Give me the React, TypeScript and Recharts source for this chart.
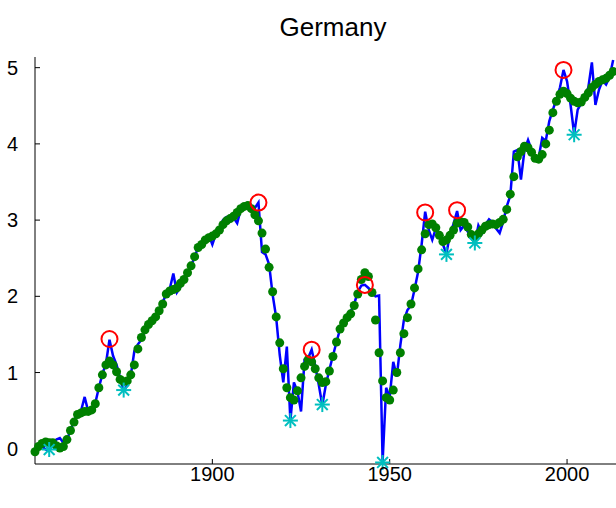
import React from "react";
import { ComposedChart, Line, Scatter, XAxis, YAxis } from "recharts";

// Germany, 1850-2013: raw series (blue line) and smoothed series (green dots)
const firstYear = 1850;

const raw = [
  -0.07, -0.01, 0.03, -0.01, -0.03, 0.07, 0.12, 0.14, 0.08, 0.12,
  0.24, 0.37, 0.46, 0.5, 0.68, 0.49, 0.51, 0.6, 0.8, 0.98,
  1.12, 1.43, 1.22, 1.1, 0.93, 0.76, 0.83, 0.96, 1.28, 1.37,
  1.43, 1.55, 1.63, 1.68, 1.73, 1.81, 1.93, 2.02, 2.1, 2.3,
  2.05, 2.12, 2.2, 2.3, 2.4, 2.52, 2.64, 2.7, 2.77, 2.8,
  2.68, 2.82, 2.89, 3.0, 3.04, 3.04, 3.03, 2.96, 3.14, 3.18,
  3.16, 3.11, 3.16, 3.23, 2.58, 2.55, 2.42, 2.02, 1.72, 1.23,
  0.87, 1.34, 0.37, 0.87, 0.75, 0.49, 1.17, 1.19, 1.3, 1.09,
  0.84, 0.57, 0.84, 1.04, 1.22, 1.4, 1.57, 1.66, 1.72, 1.8,
  1.9, 2.06, 2.14, 2.15, 2.11, 2.05, 2.0, 2.01, -0.17, 0.8,
  0.68, 1.14, 0.95, 1.36, 1.69, 1.82, 1.88, 2.09, 2.32, 2.68,
  3.11, 2.87, 2.74, 2.89, 2.8, 2.68, 2.56, 2.82, 2.95, 3.12,
  2.87, 2.93, 2.85, 2.78, 2.7, 2.93, 2.83, 2.94, 3.01, 2.97,
  2.89, 2.83, 2.98, 3.18, 3.32, 3.9, 3.92, 3.53, 3.92, 4.05,
  3.92, 3.79, 3.82, 4.08, 4.04, 4.3, 4.45, 4.58, 4.74, 4.97,
  4.82, 4.51, 4.13, 4.45, 4.53, 4.61, 4.74, 5.07, 4.51, 4.71,
  4.83, 4.78, 4.88, 5.1,
];

const trend = [
  -0.04, 0.03, 0.07, 0.09, 0.08, 0.08, 0.04, 0.01, 0.03, 0.12,
  0.24, 0.35, 0.45, 0.47, 0.49, 0.49, 0.51, 0.59, 0.8, 0.97,
  1.1, 1.15, 1.1, 1.01, 0.91, 0.88, 0.89, 0.97, 1.1, 1.31,
  1.46, 1.56, 1.63, 1.68, 1.73, 1.81, 1.9, 2.03, 2.07, 2.09,
  2.11, 2.17, 2.22, 2.31, 2.4, 2.52, 2.64, 2.68, 2.74, 2.77,
  2.79, 2.82, 2.87, 2.94, 2.99, 3.02, 3.05, 3.1, 3.15, 3.18,
  3.19, 3.15, 3.07, 2.99, 2.83, 2.62, 2.38, 2.06, 1.73, 1.39,
  1.05, 0.8, 0.67, 0.64, 0.76, 0.93, 1.08, 1.17, 1.14, 1.05,
  0.93, 0.87, 0.88, 1.02, 1.21, 1.4, 1.57, 1.65, 1.72, 1.77,
  1.88, 2.03, 2.22, 2.31, 2.26, 2.05, 1.69, 1.26, 0.89, 0.67,
  0.64, 0.77, 1.0, 1.26, 1.51, 1.72, 1.9, 2.11, 2.36, 2.61,
  2.82, 2.94, 2.95, 2.9, 2.8, 2.72, 2.74, 2.8, 2.87, 2.96,
  2.98, 2.97, 2.91, 2.81, 2.77, 2.82, 2.87, 2.92, 2.94, 2.95,
  2.94, 2.97, 3.01, 3.14, 3.34, 3.57, 3.83, 3.9, 3.97, 3.95,
  3.89, 3.81, 3.8, 3.86, 4.0, 4.18, 4.41, 4.56, 4.65, 4.69,
  4.66, 4.6, 4.56, 4.54, 4.55, 4.61, 4.67, 4.74, 4.78, 4.82,
  4.84, 4.86, 4.9, 4.95,
];

const peakYears = [1871, 1913, 1928, 1943, 1960, 1969, 1999];
const peakValues = [1.44, 3.23, 1.3, 2.15, 3.1, 3.13, 4.97];

const troughYears = [1854, 1875, 1922, 1931, 1948, 1966, 1974, 2002];
const troughValues = [-0.01, 0.77, 0.37, 0.58, -0.18, 2.55, 2.7, 4.12];

const xTicks = [1900, 1950, 2000];
const yTicks = [0, 1, 2, 3, 4, 5];

const rows = raw.map((v, i) => ({ year: firstYear + i, raw: v, trend: trend[i] }));
const peakRows = peakYears.map((y, i) => ({ year: y, value: peakValues[i] }));
const troughRows = troughYears.map((y, i) => ({ year: y, value: troughValues[i] }));

const font = "'Liberation Sans', Arial, Helvetica, sans-serif";

const GreenDot = (p: any) => <circle cx={p.cx} cy={p.cy} r={4.5} fill="#008000" />;

const Ring = (p: any) => (
  <circle cx={p.cx} cy={p.cy} r={8} fill="none" stroke="#ff0000" strokeWidth={2} />
);

const Star = (p: any) => {
  const s = 7.5;
  const d = s * 0.72;
  const { cx, cy } = p;
  return (
    <g stroke="#00bfbf" strokeWidth={2} strokeLinecap="butt">
      <line x1={cx} y1={cy - s} x2={cx} y2={cy + s} />
      <line x1={cx - s} y1={cy} x2={cx + s} y2={cy} />
      <line x1={cx - d} y1={cy - d} x2={cx + d} y2={cy + d} />
      <line x1={cx - d} y1={cy + d} x2={cx + d} y2={cy - d} />
    </g>
  );
};

export default function App() {
  return (
    <div style={{ position: "absolute", left: 0, top: 0, width: 616, height: 508, background: "#fff" }}>
      <div
        style={{
          position: "absolute",
          top: 12,
          left: 0,
          width: 666,
          textAlign: "center",
          fontFamily: font,
          fontSize: 26,
          color: "#000",
        }}
      >
        Germany
      </div>
      <ComposedChart
        width={616}
        height={508}
        data={rows}
        margin={{ top: 57, right: 0, bottom: 14, left: 0 }}
      >
        <XAxis
          dataKey="year"
          type="number"
          domain={[1850, 2013.8]}
          ticks={xTicks}
          height={30}
          tickSize={-5}
          tickMargin={8}
          axisLine={{ stroke: "#000" }}
          tickLine={{ stroke: "#000" }}
          tick={{ fill: "#000", fontSize: 20, fontFamily: font }}
        />
        <YAxis
          type="number"
          domain={[-0.2, 5.14]}
          ticks={yTicks}
          width={35}
          tickSize={-5}
          tickMargin={22}
          axisLine={{ stroke: "#000" }}
          tickLine={{ stroke: "#000" }}
          tick={{ fill: "#000", fontSize: 20, fontFamily: font }}
        />
        <Line
          dataKey="raw"
          stroke="#0000ff"
          strokeWidth={2.5}
          dot={false}
          isAnimationActive={false}
        />
        <Scatter dataKey="trend" data={rows} shape={GreenDot} isAnimationActive={false} />
        <Scatter dataKey="value" data={peakRows} shape={Ring} isAnimationActive={false} />
        <Scatter dataKey="value" data={troughRows} shape={Star} isAnimationActive={false} />
      </ComposedChart>
    </div>
  );
}
